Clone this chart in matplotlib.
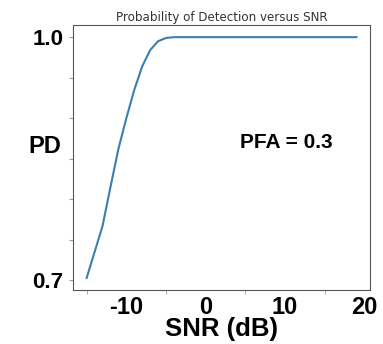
import numpy as np
import matplotlib
matplotlib.use("Agg")
import matplotlib.pyplot as plt
from matplotlib.ticker import FixedLocator, NullFormatter

# Data
snr_db = np.arange(-15, 20)
pd_vals = [0.703, 0.735, 0.767, 0.815, 0.862, 0.900, 0.935, 0.964, 0.984, 0.995, 0.999,
           1.0, 1.0, 1.0, 1.0, 1.0, 1.0, 1.0, 1.0, 1.0, 1.0, 1.0, 1.0, 1.0, 1.0,
           1.0, 1.0, 1.0, 1.0, 1.0, 1.0, 1.0, 1.0, 1.0, 1.0]

x_label_ticks = [-10, 0, 10, 20]
x_mark_ticks = [-15, -5, 5, 15]
y_ticks = [0.7, 0.75, 0.8, 0.85, 0.9, 0.95, 1.0]
y_tick_labels = ['0.7', '', '', '', '', '', '1.0']

plt.rcParams['font.family'] = ['Liberation Sans', 'DejaVu Sans']

fig = plt.figure(figsize=(3.83, 3.44), dpi=100)
ax = fig.add_axes([0.191, 0.157, 0.775, 0.770])

ax.plot(snr_db, pd_vals, color='#3a7fb0', linewidth=1.5)

# x axis: labels without marks, marks without labels
ax.xaxis.set_major_locator(FixedLocator(x_label_ticks))
ax.set_xticklabels([str(v) for v in x_label_ticks], fontsize=17, fontweight='bold')
ax.xaxis.set_minor_locator(FixedLocator(x_mark_ticks))
ax.xaxis.set_minor_formatter(NullFormatter())
ax.tick_params(axis='x', which='major', length=0, pad=4)
ax.tick_params(axis='x', which='minor', length=3, color='#999999')

ax.set_yticks(y_ticks)
ax.set_yticklabels(y_tick_labels, fontsize=16, fontweight='bold')
ax.tick_params(axis='y', length=3, color='#999999', pad=4)

for s in ax.spines.values():
    s.set_color('#555555')
    s.set_linewidth(0.8)

ax.set_xlabel('SNR (dB)', fontsize=18.5, fontweight='bold', labelpad=-1)
ax.set_ylabel('PD', fontsize=17, fontweight='bold', rotation=0)
ax.yaxis.set_label_coords(-0.096, 0.543)
ax.yaxis.label.set_verticalalignment('center')
ax.yaxis.label.set_horizontalalignment('center')

ax.set_title('Probability of Detection versus SNR', fontsize=8.6, color='#333333',
             family='DejaVu Sans', pad=3)
ax.text(0.719, 0.558, 'PFA = 0.3', transform=ax.transAxes, fontsize=15,
        fontweight='bold', ha='center', va='center')

fig.savefig('out.png', dpi=100)
